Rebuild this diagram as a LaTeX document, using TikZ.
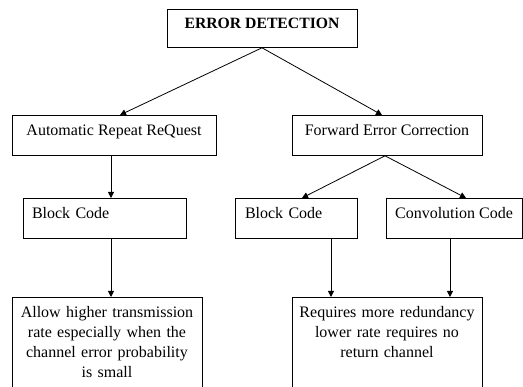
\documentclass[tikz,border=0pt]{standalone}
\usepackage{fontspec}
\setmainfont{Liberation Serif}
\usepackage{tikz}
\usetikzlibrary{arrows.meta}
\usetikzlibrary{positioning}
\tikzset{x=1pt, y=-1pt}
\tikzstyle{block} = [draw=black, fill=white, anchor=north, inner xsep=0pt, inner ysep=0pt, line width=0.8pt, text height=20pt, text depth=20pt, align=center, font={\fontsize{16}{20}\selectfont}]
\tikzstyle{ln} = [draw, line width=0.8pt, -{Triangle[length=6pt, width=6pt]}]

\begin{document}
\begin{tikzpicture}
  \clip (0,0) rectangle (523,387);
  \node[block, minimum width=190pt, text height=19pt, text depth=19pt, font={\fontsize{15.7}{20}\selectfont\bfseries}] (detection) at (262,9) {ERROR DETECTION};
  \node[block, minimum width=204pt] (arq) at (114,115) {Automatic Repeat ReQuest};
  \node[block, minimum width=190pt] (fec) at (387,115) {Forward Error Correction};
  \node[block, text width=145pt, inner xsep=9pt, align=left] (block-1) at (104.5,198) {Block Code};
  \node[block, text width=102pt, inner xsep=10pt, align=left] (block-2) at (296,198) {Block Code};
  \node[block, minimum width=136pt] (conv) at (454,198) {Convolution Code};
  \node[block, text width=190pt, text depth=80pt] (note-1) at (107,297) {Allow higher transmission\\ rate especially when the\\ channel error probability\\ is small};
  \node[block, text width=190pt, text depth=80pt] (note-2) at (387,297) {Requires more redundancy\\ lower rate requires no\\ return channel};
  \path[ln] (detection.south) -- ([xshift=6pt]arq.north);
  \path[ln] (detection.south) -- ([xshift=-5pt]fec.north);
  \path[ln] ([xshift=-3pt]arq.south) -- ([xshift=-3pt]arq.south |- block-1.north);
  \path[ln] ([xshift=-2pt]fec.south) -- ([xshift=6pt]block-2.north);
  \path[ln] ([xshift=-2pt]fec.south) -- ([xshift=12pt]conv.north);
  \path[ln] ([xshift=6.5pt]block-1.south) -- ([xshift=6.5pt]block-1.south |- note-1.north);
  \path[ln] ([xshift=35pt]block-2.south) -- ([xshift=35pt]block-2.south |- note-2.north);
  \path[ln] ([xshift=-4pt]conv.south) -- ([xshift=-4pt]conv.south |- note-2.north);
\end{tikzpicture}
\end{document}
